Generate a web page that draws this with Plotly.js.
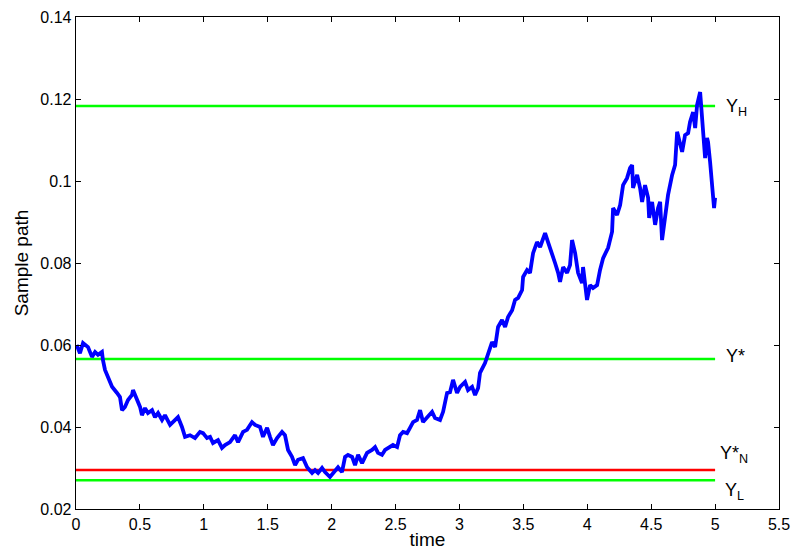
<!DOCTYPE html>
<html>
<head>
<meta charset="utf-8">
<script src="https://cdn.plot.ly/plotly-3.0.1.min.js"></script>
<style>html,body{margin:0;padding:0;background:#fff;}#chart{width:793px;height:553px;}</style>
</head>
<body>
<div id="chart"></div>
<script>
// Sample path (time, value)
const pathTime = [0.005,0.031,0.055,0.094,0.125,0.149,0.172,0.203,0.211,0.227,0.250,0.282,0.321,0.344,0.360,0.383,0.407,0.438,0.446,0.477,0.501,0.516,0.540,0.563,0.595,0.618,0.642,0.673,0.696,0.736,0.775,0.798,0.829,0.853,0.892,0.931,0.970,0.994,1.025,1.049,1.072,1.111,1.142,1.166,1.205,1.244,1.268,1.307,1.338,1.377,1.401,1.440,1.463,1.495,1.518,1.541,1.573,1.612,1.635,1.659,1.690,1.714,1.737,1.776,1.808,1.847,1.870,1.894,1.925,1.948,1.987,2.011,2.050,2.081,2.105,2.128,2.160,2.183,2.207,2.238,2.277,2.316,2.340,2.363,2.394,2.418,2.441,2.480,2.512,2.535,2.559,2.590,2.613,2.637,2.668,2.692,2.715,2.746,2.786,2.809,2.848,2.872,2.903,2.926,2.950,2.981,3.005,3.044,3.067,3.099,3.122,3.146,3.161,3.200,3.224,3.255,3.279,3.302,3.333,3.357,3.380,3.412,3.435,3.459,3.490,3.498,3.529,3.552,3.576,3.607,3.631,3.654,3.670,3.693,3.725,3.748,3.772,3.787,3.811,3.842,3.865,3.881,3.905,3.928,3.959,3.967,3.998,4.022,4.045,4.077,4.100,4.124,4.163,4.194,4.202,4.233,4.257,4.280,4.311,4.335,4.351,4.358,4.390,4.413,4.429,4.452,4.476,4.484,4.507,4.531,4.554,4.570,4.585,4.609,4.632,4.664,4.687,4.703,4.726,4.742,4.765,4.789,4.804,4.828,4.844,4.859,4.883,4.898,4.922,4.937,4.945,4.961,4.980,4.992,5.000];
const pathValue = [0.0600,0.0580,0.0605,0.0595,0.0571,0.0583,0.0576,0.0583,0.0563,0.0539,0.0522,0.0498,0.0483,0.0473,0.0441,0.0449,0.0466,0.0478,0.0490,0.0466,0.0449,0.0429,0.0446,0.0434,0.0441,0.0424,0.0434,0.0417,0.0429,0.0405,0.0417,0.0424,0.0400,0.0376,0.0380,0.0373,0.0388,0.0385,0.0373,0.0376,0.0361,0.0368,0.0349,0.0356,0.0363,0.0380,0.0363,0.0388,0.0393,0.0412,0.0405,0.0400,0.0376,0.0398,0.0376,0.0356,0.0373,0.0388,0.0380,0.0344,0.0327,0.0307,0.0320,0.0324,0.0302,0.0288,0.0295,0.0288,0.0300,0.0290,0.0278,0.0288,0.0302,0.0290,0.0327,0.0332,0.0327,0.0307,0.0332,0.0312,0.0337,0.0344,0.0351,0.0337,0.0332,0.0344,0.0349,0.0356,0.0351,0.0380,0.0388,0.0385,0.0398,0.0412,0.0417,0.0441,0.0412,0.0422,0.0437,0.0422,0.0417,0.0437,0.0483,0.0485,0.0515,0.0483,0.0498,0.0510,0.0490,0.0498,0.0478,0.0495,0.0532,0.0556,0.0580,0.0607,0.0595,0.0644,0.0661,0.0644,0.0668,0.0685,0.0710,0.0715,0.0734,0.0766,0.0783,0.0776,0.0824,0.0851,0.0839,0.0856,0.0873,0.0851,0.0824,0.0800,0.0776,0.0754,0.0790,0.0776,0.0795,0.0856,0.0824,0.0776,0.0751,0.0790,0.0710,0.0746,0.0739,0.0746,0.0783,0.0812,0.0837,0.0876,0.0934,0.0917,0.0941,0.0990,0.1007,0.1032,0.1039,0.0983,0.1015,0.0983,0.0949,0.0990,0.0959,0.0910,0.0949,0.0893,0.0934,0.0949,0.0856,0.0917,0.0966,0.1015,0.1039,0.1120,0.1095,0.1071,0.1112,0.1117,0.1144,0.1168,0.1129,0.1185,0.1217,0.1144,0.1056,0.1105,0.1095,0.1046,0.0973,0.0934,0.0959];

// Threshold levels
const levelNames = ["Y<sub>H</sub>", "Y*", "Y*<sub>N</sub>", "Y<sub>L</sub>"];
const levelValues = [0.1183, 0.0566, 0.0295, 0.0270];
const levelColors = ["#00ff00", "#00ff00", "#ff0000", "#00ff00"];
const levelSpan = [0, 5];

// Axis ticks
const xTickVals = [0, 0.5, 1, 1.5, 2, 2.5, 3, 3.5, 4, 4.5, 5, 5.5];
const xTickText = ["0", "0.5", "1", "1.5", "2", "2.5", "3", "3.5", "4", "4.5", "5", "5.5"];
const yTickVals = [0.02, 0.04, 0.06, 0.08, 0.10, 0.12, 0.14];
const yTickText = ["0.02", "0.04", "0.06", "0.08", "0.1", "0.12", "0.14"];

const FONT = "Liberation Sans, Arial, Helvetica, sans-serif";

const traces = [];
levelValues.forEach((v, i) => {
  traces.push({
    x: levelSpan, y: [v, v], mode: "lines", type: "scatter",
    line: {color: levelColors[i], width: 2.6}, hoverinfo: "skip", showlegend: false
  });
});
traces.push({
  x: pathTime, y: pathValue, mode: "lines", type: "scatter",
  line: {color: "#0000ff", width: 3.8}, showlegend: false
});

// label vertical offsets (px) to place like the reference
const labelShift = [-2, 3, 16, -11];
const labelX = [5.07, 5.07, 5.02, 5.06];
const annotations = levelNames.map((n, i) => ({
  x: labelX[i], y: levelValues[i], xref: "x", yref: "y", text: n,
  showarrow: false, xanchor: "left", yanchor: "middle", yshift: labelShift[i],
  font: {family: FONT, size: 18, color: "#000"}
}));

const axisCommon = {
  showgrid: false, zeroline: false, showline: true, linecolor: "#000", linewidth: 1.3,
  mirror: "ticks", ticks: "inside", ticklen: 5, tickcolor: "#000", tickwidth: 1,
  tickfont: {family: FONT, size: 16, color: "#000"}
};

const layout = {
  width: 793, height: 553,
  margin: {l: 76, r: 14, t: 17, b: 44},
  paper_bgcolor: "#fff", plot_bgcolor: "#fff",
  showlegend: false,
  xaxis: Object.assign({}, axisCommon, {
    range: [0, 5.5], tickmode: "array", tickvals: xTickVals, ticktext: xTickText,
    title: {text: "time", font: {family: FONT, size: 19, color: "#000"}, standoff: 1}
  }),
  yaxis: Object.assign({}, axisCommon, {
    range: [0.02, 0.14], tickmode: "array", tickvals: yTickVals, ticktext: yTickText,
    title: {text: "Sample path", font: {family: FONT, size: 19, color: "#000"}, standoff: 6}
  }),
  annotations: annotations
};

Plotly.newPlot("chart", traces, layout, {displayModeBar: false, staticPlot: true});
</script>
</body>
</html>
